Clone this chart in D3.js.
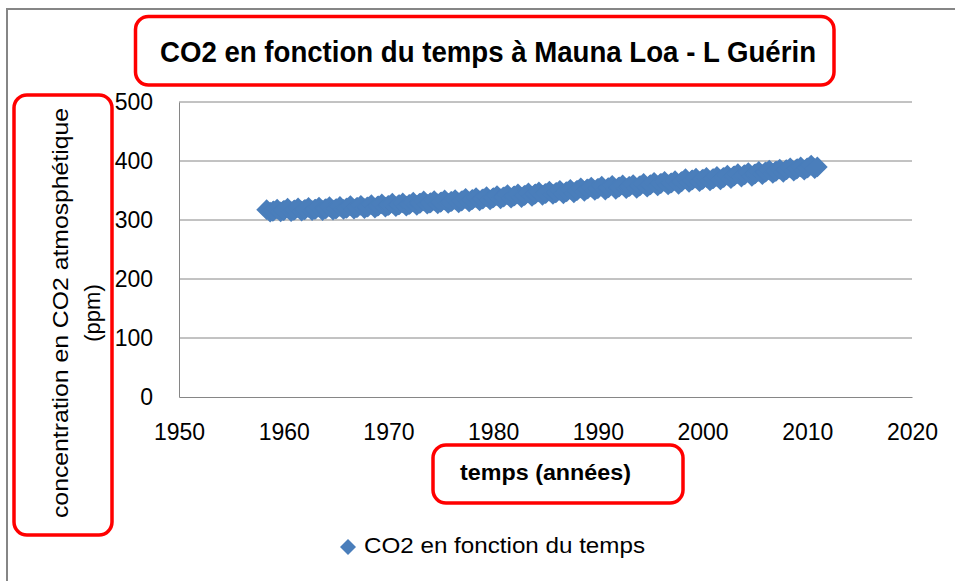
<!DOCTYPE html>
<html><head><meta charset="utf-8">
<script src="https://cdn.jsdelivr.net/npm/d3@7"></script>
<style>body{margin:0;background:#fff}svg{display:block}</style>
</head><body><svg id="c" width="955" height="581"></svg>
<script>
const title = "CO2 en fonction du temps à Mauna Loa - L Guérin";
const xTitle = "temps (années)";
const yTitle = ["concentration en CO2 atmosphétique", "(ppm)"];
const seriesName = "CO2 en fonction du temps";
const xTicks = [1950, 1960, 1970, 1980, 1990, 2000, 2010, 2020];
const yTicks = [0, 100, 200, 300, 400, 500];
const years = [1958,1959,1960,1961,1962,1963,1964,1965,1966,1967,1968,1969,1970,1971,1972,1973,1974,1975,1976,1977,1978,1979,1980,1981,1982,1983,1984,1985,1986,1987,1988,1989,1990,1991,1992,1993,1994,1995,1996,1997,1998,1999,2000,2001,2002,2003,2004,2005,2006,2007,2008,2009,2010];
// January, May (peak), September (trough), December values, ppm
const co2Jan = [null,315.6,316.4,317.0,317.9,318.6,319.3,319.4,320.5,321.6,322.3,324.0,325.0,326.2,326.7,328.7,329.4,330.6,331.6,332.7,334.8,336.0,337.8,339.4,340.9,342.0,344.1,345.3,346.7,348.2,350.4,352.9,353.8,354.9,356.1,357.0,358.2,359.9,362.1,363.0,365.3,368.0,369.1,370.3,372.4,374.9,377.0,378.4,381.4,382.9,385.4,386.9,388.5];
const co2May = [317.5,318.3,320.0,320.6,321.2,322.0,322.5,322.9,324.4,324.9,325.9,327.3,328.6,328.9,330.2,332.4,333.0,334.0,334.7,336.7,338.0,339.5,341.5,343.1,344.3,345.9,347.5,349.0,350.4,352.1,354.5,355.8,357.3,358.8,359.4,360.0,361.9,363.8,365.5,366.7,370.0,370.9,372.1,373.8,375.9,378.6,380.5,382.4,384.7,386.4,388.5,390.2,393.2];
const co2Sep = [313.3,313.8,314.2,315.1,316.0,316.0,316.9,317.9,318.4,319.3,320.2,321.8,322.6,323.5,324.9,326.7,327.3,328.0,329.0,330.7,332.3,333.9,335.9,336.9,338.0,340.0,341.8,343.3,344.3,346.0,348.7,350.0,350.8,352.0,353.1,353.8,355.6,357.8,359.5,360.4,363.8,365.0,366.3,368.0,370.0,372.7,374.1,376.8,378.9,380.9,382.8,384.4,386.9];
const co2Dec = [314.8,315.8,316.4,317.3,318.0,318.7,318.8,319.9,321.0,321.7,323.4,324.4,325.6,326.1,328.1,328.8,330.0,331.0,332.1,334.2,335.4,337.2,338.8,340.3,341.4,343.5,344.7,346.1,347.6,349.8,352.3,353.2,354.3,355.5,356.4,357.6,359.3,361.5,362.4,364.7,367.4,368.5,369.7,371.8,374.3,376.4,377.8,380.8,382.3,384.8,386.3,387.9,390.0];

const points = [];
years.forEach((yr, i) => {
  if (co2Jan[i] != null) points.push([yr + 0.04, co2Jan[i]]);
  points.push([yr + 0.37, co2May[i]]);
  points.push([yr + 0.71, co2Sep[i]]);
  points.push([yr + 0.96, co2Dec[i]]);
});

const svg = d3.select("#c");
const gray = "#868686", blue = "#4a7ebb", red = "#ff0000";
const font = "'Liberation Sans', Arial, sans-serif";

// outer frame
svg.append("rect").attr("x", 7).attr("y", 9).attr("width", 1200).attr("height", 1200)
  .attr("fill", "none").attr("stroke", gray).attr("stroke-width", 2);

const x = d3.scaleLinear().domain([1950, 2020]).range([179, 912]);
const y = d3.scaleLinear().domain([0, 500]).range([397, 102]);

// gridlines
svg.append("g").selectAll("line").data(yTicks.filter(d => d > 0)).join("line")
  .attr("x1", x(1950)).attr("x2", x(2020)).attr("y1", d => y(d)).attr("y2", d => y(d))
  .attr("stroke", gray).attr("stroke-width", 1);

// axes
const xa = svg.append("g").attr("transform", `translate(0,${y(0)})`)
  .call(d3.axisBottom(x).tickValues(xTicks).tickFormat(d3.format("d")).tickSize(0).tickPadding(27));
const ya = svg.append("g").attr("transform", `translate(${x(1950)},0)`)
  .call(d3.axisLeft(y).tickValues(yTicks).tickSize(0).tickPadding(26));
[xa, ya].forEach(g => {
  g.select(".domain").attr("stroke", gray).attr("stroke-width", 1);
  g.selectAll("text").attr("font-family", font).attr("font-size", 23).attr("fill", "#000");
});

// data
const sym = d3.symbol().type(d3.symbolSquare).size(215);
svg.append("g").selectAll("path").data(points).join("path")
  .attr("d", sym)
  .attr("transform", d => `translate(${x(d[0])},${y(d[1])}) rotate(45)`)
  .attr("fill", blue);

// boxes
function box(x0, y0, x1, y1) {
  svg.append("rect").attr("x", x0).attr("y", y0).attr("width", x1 - x0).attr("height", y1 - y0)
    .attr("rx", 13).attr("fill", "none").attr("stroke", red).attr("stroke-width", 3.5);
}
box(135.5, 16.5, 834, 85);
box(14, 95, 112, 535);
box(433, 445, 683, 503);

// title
svg.append("text").attr("x", 488).attr("y", 62).attr("text-anchor", "middle")
  .attr("font-family", font)
  .attr("font-weight", "bold").attr("font-size", 29)
  .attr("textLength", 656).attr("lengthAdjust", "spacingAndGlyphs").text(title);

// x title
svg.append("text").attr("x", 545.5).attr("y", 480).attr("text-anchor", "middle")
  .attr("font-family", font).attr("font-weight", "bold").attr("font-size", 22)
  .attr("textLength", 171).attr("lengthAdjust", "spacingAndGlyphs").text(xTitle);

// y title
svg.append("text").attr("transform", "translate(68,313) rotate(-90)").attr("text-anchor", "middle")
  .attr("font-family", font).attr("font-size", 22)
  .attr("textLength", 410).attr("lengthAdjust", "spacingAndGlyphs").text(yTitle[0]);
svg.append("text").attr("transform", "translate(100,313) rotate(-90)").attr("text-anchor", "middle")
  .attr("font-family", font).attr("font-size", 22).text(yTitle[1]);

// legend
svg.append("path").attr("d", d3.symbol().type(d3.symbolSquare).size(128))
  .attr("transform", "translate(348,547) rotate(45)").attr("fill", blue);
svg.append("text").attr("x", 364).attr("y", 553)
  .attr("font-family", font).attr("font-size", 22)
  .attr("textLength", 281).attr("lengthAdjust", "spacingAndGlyphs").text(seriesName);
</script></body></html>
